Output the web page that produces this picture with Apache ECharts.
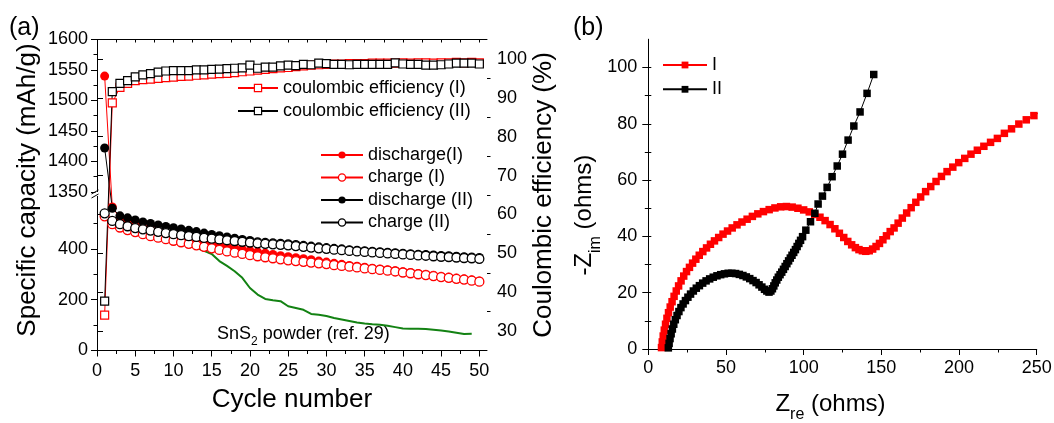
<!DOCTYPE html>
<html>
<head>
<meta charset="utf-8">
<title>SnS2 electrodes: cycling and impedance</title>
<script src="https://cdn.jsdelivr.net/npm/echarts@6/dist/echarts.min.js"></script>
<style>
html, body { margin: 0; padding: 0; background: #fff; }
#chart { width: 1054px; height: 423px; }
</style>
</head>
<body>
<div id="chart"></div>
<script>
// ---------- (a) cycling performance ----------
const cycleNo = [1,2,3,4,5,6,7,8,9,10,11,12,13,14,15,16,17,18,19,20,21,22,23,24,25,
  26,27,28,29,30,31,32,33,34,35,36,37,38,39,40,41,42,43,44,45,46,47,48,49,50];

const dischargeI = [1540,565,520,503,493,484,476,468,461,454,447,440,434,428,422,416,410,404,398,393,
  388,383,378,373,369,365,361,357,352,348,343,339,335,332,328,324,321,318,314,310,
  307,303,300,296,292,289,285,282,278,274];
const chargeI = [528,497,484,474,466,458,450,444,438,432,426,420,414,408,402,396,390,385,380,375,
  371,367,363,359,355,352,349,346,343,340,336,333,330,327,323,320,317,314,311,307,
  304,300,297,293,289,286,282,279,275,271];
const dischargeII = [1422,560,530,522,514,506,500,494,488,483,478,473,468,462,457,452,447,442,437,433,
  428,426,424,422,420,417,414,411,408,405,402,400,397,395,393,391,389,387,385,383,
  381,379,378,376,374,373,371,369,368,366];
const chargeII = [540,510,497,489,482,477,472,467,462,458,454,450,447,443,440,437,434,431,428,425,
  422,420,418,416,414,411,408,405,402,400,397,395,392,390,388,386,384,382,380,378,
  376,374,373,371,369,368,366,364,363,361];

const ceI = [34.1,88.7,92.7,93.7,94.4,94.7,94.8,95.0,95.2,95.3,95.5,95.6,95.8,95.9,96.1,96.2,96.3,96.5,96.7,96.9,
  97.1,97.3,97.5,97.7,97.8,98.0,98.2,98.4,98.5,98.6,98.7,98.7,98.8,98.8,98.8,98.9,98.9,98.9,98.9,99.0,
  98.9,99.0,99.0,98.9,99.0,99.0,99.1,99.0,99.1,99.0];
const ceII = [37.7,91.6,93.7,94.4,95.4,95.9,96.2,96.6,96.9,97.0,97.0,97.0,97.2,97.2,97.3,97.4,97.5,97.6,97.7,98.4,
  97.6,97.9,97.9,98.2,98.4,98.3,98.6,98.5,98.9,98.8,98.6,98.6,98.5,98.6,98.6,98.6,98.6,98.6,99.0,98.7,
  98.6,98.6,98.4,98.4,98.5,98.7,98.9,98.9,98.9,98.7];

// SnS2 powder reference curve (ref. 29)
const powderCycle = [2,3,4,5,6,7,8,9,10,11,12,13,14,15,16,17,18,19,20,21,22,23,24,25,
  26,27,28,29,30,31,32,33,34,35,36,37,38,39,40,41,42,43,44,45,46,47,48,49];
const powderCapacity = [516,508,501,507,470,458,454,448,443,432,424,404,392,380,352,333,312,286,246,220,
  203,198,194,174,167,160,144,141,136,128,122,116,110,106,103,101,97,92,87,86,
  86,85,82,79,75,70,65,66];

// tick labels
const cycleTicks = [0,5,10,15,20,25,30,35,40,45,50];
const cycleMinorTicks = [2.5,7.5,12.5,17.5,22.5,27.5,32.5,37.5,42.5,47.5];
const cycleTopTicks = [0,2.5,5,7.5,10,12.5,15,17.5,20,22.5,25,27.5,30,32.5,35,37.5,40,42.5,45,47.5,50];
const capTicks = [0,200,400,1350,1400,1450,1500,1550,1600];
const capMinorTicks = [100,300,500,1375,1425,1475,1525,1575];
const ceTicks = [30,40,50,60,70,80,90,100];
const ceMinorTicks = [35,45,55,65,75,85,95];

// ---------- (b) Nyquist plots ----------
const zReI = [8.5,9.0,9.6,10.3,11.1,12.0,13.0,14.1,15.3,16.6,18.0,19.5,21.1,22.8,24.6,26.5,28.5,30.6,32.8,35.1,
  37.5,40.0,42.6,45.3,48.1,51.0,54.0,57.1,60.3,63.6,67.0,70.5,74.1,77.8,81.5,85.2,88.9,92.6,96.3,100.0,
  103.6,107.1,110.5,113.8,117.0,120.1,123.0,125.8,128.4,130.9,133.3,135.6,137.8,140.0,142.2,144.4,146.6,148.8,151.0,153.3,
  155.7,158.2,160.8,163.5,166.3,169.2,172.2,175.3,178.5,181.8,185.2,188.7,192.3,196.0,199.8,203.7,207.7,211.8,216.0,220.3,
  224.7,229.2,233.8,238.5,243.3,248.2,253.2];
const zImI = [0.5,2.5,4.6,6.7,8.8,10.9,12.9,14.9,16.8,18.7,20.6,22.4,24.2,25.9,27.5,29.0,30.5,31.9,33.3,34.6,
  35.9,37.2,38.4,39.6,40.8,41.9,43.0,44.1,45.1,46.1,47.1,48.0,48.8,49.5,50.1,50.5,50.6,50.4,50.0,49.4,
  48.7,47.8,46.8,45.6,44.2,42.7,41.1,39.6,38.2,37.0,36.0,35.3,34.9,34.7,34.9,35.5,36.4,37.5,38.8,40.2,
  41.7,43.0,44.7,46.5,48.3,50.2,52.1,54.0,55.9,57.7,59.5,61.3,63.0,64.6,66.2,67.7,69.2,70.6,72.0,73.4,
  74.8,76.6,78.2,79.9,81.4,82.9,84.4];
const zReII = [12.9,13.4,14.0,14.7,15.5,16.4,17.4,18.5,19.7,21.0,22.4,23.9,25.5,27.2,29.0,30.9,32.9,35.0,37.2,39.5,
  41.8,44.2,46.6,49.0,51.4,53.8,56.2,58.6,60.9,63.1,65.3,67.4,69.4,71.3,73.1,74.8,76.3,77.7,
  78.9,79.9,80.8,81.7,82.7,83.7,84.8,85.9,87.0,88.1,89.2,90.3,91.4,92.5,93.6,94.7,95.8,96.9,98.0,99.3,
  101.4,104.4,107.2,109.3,112.1,115.1,118.3,121.6,125.0,128.6,132.3,136.3,140.8,145.1];
const zImII = [0.4,2.0,3.7,5.4,7.1,8.8,10.4,11.9,13.3,14.7,16.0,17.2,18.4,19.5,20.6,21.6,22.5,23.4,24.2,24.9,
  25.5,26.0,26.4,26.7,26.9,26.9,26.8,26.5,26.1,25.6,25.0,24.3,23.6,22.8,22.0,21.2,20.6,20.2,
  20.6,21.4,22.4,23.5,24.5,25.5,26.4,27.3,28.3,29.3,30.3,31.3,32.3,33.3,34.3,35.3,36.4,37.5,38.6,39.9,
  42.2,45.2,48.2,51.5,54.3,57.4,61.2,65.0,69.2,74.2,79.2,84.2,90.8,97.5];
const zReTicks = [0,50,100,150,200,250];
const zImTicks = [0,20,40,60,80,100];
const zImRightTicks = [10,20,30,40,50,60,70,80,90,100];
const zImMinorTicks = [10,30,50,70,90];

// ---------- broken capacity axis ----------
// lower part 0–612 mAh/g and upper part 1345–1600 mAh/g each take half of the axis
const CAP_LOWER = [0, 612];
const CAP_UPPER = [1345, 1600];
function capToAxis(v) {
  if (v <= CAP_LOWER[1]) return (v - CAP_LOWER[0]) / (CAP_LOWER[1] - CAP_LOWER[0]) * 50;
  return 50 + (v - CAP_UPPER[0]) / (CAP_UPPER[1] - CAP_UPPER[0]) * 50;
}
const capLabelText = {};
capTicks.forEach(v => { capLabelText[capToAxis(v).toFixed(3)] = String(v); });

// ---------- styling ----------
const FONT = '"Liberation Sans", Arial, Helvetica, sans-serif';
const INK = '#000';
const RED = '#ff0000';
const GREEN = '#138213';
const tickLabel = { color: INK, fontSize: 18, fontFamily: FONT };
const titleText = { color: INK, fontSize: 26, fontFamily: FONT };
const frameLine = { show: true, lineStyle: { color: INK, width: 1 } };
const noLine = { show: false, lineStyle: { color: INK } };
const noSplit = { show: false };
const GRID_A = { left: 97, top: 39.5, width: 390, height: 311 };
const GRID_B = { left: 648.3, top: 39.3, width: 388.4, height: 309.7 };
const subRich = {
  n: { fontSize: 24, fontFamily: FONT, color: INK, lineHeight: 38 },
  s: { fontSize: 16, fontFamily: FONT, color: INK, lineHeight: 16, padding: [22, 0, 0, 0] }
};

function pairs(xs, ys) { return xs.map((x, i) => [x, ys[i]]); }
function capPairs(ys) { return cycleNo.map((c, i) => [c, capToAxis(ys[i])]); }

function capSeries(name, values, color, filled) {
  return {
    name, type: 'line', xAxisIndex: 0, yAxisIndex: 0,
    data: capPairs(values),
    symbol: 'circle', symbolSize: 9,
    lineStyle: { color, width: 1 },
    itemStyle: filled ? { color, borderWidth: 0 } : { color: '#fff', borderColor: color, borderWidth: 1.3 },
    emphasis: { disabled: true }
  };
}
function ceSeries(name, values, color) {
  return {
    name, type: 'line', xAxisIndex: 0, yAxisIndex: 1,
    data: pairs(cycleNo, values),
    symbol: 'rect', symbolSize: 8,
    lineStyle: { color, width: 1 },
    itemStyle: { color: '#fff', borderColor: color, borderWidth: 1.2 },
    emphasis: { disabled: true }
  };
}
function nyquistSeries(name, xs, ys, color) {
  return {
    name, type: 'line', xAxisIndex: 3, yAxisIndex: 4,
    data: pairs(xs, ys),
    symbol: 'rect', symbolSize: 7.5,
    lineStyle: { color, width: 1 },
    itemStyle: { color, borderWidth: 0 },
    emphasis: { disabled: true }
  };
}

const legendBase = {
  orient: 'vertical', selectedMode: false, padding: 0,
  itemHeight: 9,
  itemStyle: { borderWidth: 'inherit' },
  textStyle: { color: INK, fontSize: 18, fontFamily: FONT, lineHeight: 20 }
};

const chart = echarts.init(document.getElementById('chart'), null, { renderer: 'canvas' });

chart.setOption({
  animation: false,
  backgroundColor: '#fff',
  grid: [
    Object.assign({ outerBoundsMode: 'none', containLabel: false }, GRID_A),
    Object.assign({ outerBoundsMode: 'none', containLabel: false }, GRID_A),
    Object.assign({ outerBoundsMode: 'none', containLabel: false }, GRID_B),
    Object.assign({ outerBoundsMode: 'none', containLabel: false }, GRID_B)
  ],
  xAxis: [
    { // (a) cycle number
      gridIndex: 0, type: 'value', position: 'bottom', min: 0, max: 51,
      axisLine: frameLine, splitLine: noSplit,
      axisTick: { show: true, length: 6, customValues: cycleTicks, lineStyle: { color: INK } },
      axisLabel: Object.assign({ customValues: cycleTicks, margin: 12 }, tickLabel),
      name: 'Cycle number', nameLocation: 'middle', nameGap: 36, nameTextStyle: titleText
    },
    { // (a) top frame
      gridIndex: 0, type: 'value', position: 'top', min: 0, max: 51,
      axisLine: frameLine, splitLine: noSplit, axisLabel: { show: false },
      axisTick: { show: true, inside: true, length: 3, customValues: cycleTopTicks, lineStyle: { color: INK } }
    },
    { // (a) minor ticks of the cycle axis
      gridIndex: 1, type: 'value', position: 'bottom', min: 0, max: 51,
      axisLine: noLine, splitLine: noSplit, axisLabel: { show: false },
      axisTick: { show: true, length: 3.5, customValues: cycleMinorTicks, lineStyle: { color: INK } }
    },
    { // (b) Z_re
      gridIndex: 2, type: 'value', position: 'bottom', min: 0, max: 250, interval: 50,
      axisLine: frameLine, splitLine: noSplit, minorSplitLine: noSplit,
      axisTick: { show: true, length: 6, customValues: zReTicks, lineStyle: { color: INK } },
      minorTick: { show: true, splitNumber: 2, length: 3.5, lineStyle: { color: INK } },
      axisLabel: Object.assign({ customValues: zReTicks, margin: 10 }, tickLabel),
      name: '{n|Z}{s|re}{n| (ohms)}', nameLocation: 'middle', nameGap: 36,
      nameTextStyle: { rich: subRich, padding: [0, 24, 0, 0] }
    },
    { // (b) top frame
      gridIndex: 2, type: 'value', position: 'top', min: 0, max: 250,
      axisLine: frameLine, splitLine: noSplit, axisLabel: { show: false }, axisTick: { show: false }
    },
    { gridIndex: 3, type: 'value', min: 0, max: 250, show: false }
  ],
  yAxis: [
    { // (a) specific capacity, broken axis
      gridIndex: 0, type: 'value', position: 'left', min: 0, max: 100,
      axisLine: frameLine, splitLine: noSplit,
      axisTick: { show: true, length: 6, customValues: capTicks.map(capToAxis), lineStyle: { color: INK } },
      axisLabel: Object.assign({
        customValues: capTicks.map(capToAxis), margin: 9,
        formatter: v => capLabelText[Number(v).toFixed(3)] || ''
      }, tickLabel),
      name: 'Specific capacity (mAh/g)', nameLocation: 'middle', nameRotate: 90, nameGap: 56,
      nameTextStyle: Object.assign({ padding: [0, 0, 0, 10] }, titleText)
    },
    { // (a) coulombic efficiency
      gridIndex: 0, type: 'value', position: 'right', min: 25, max: 105,
      axisLine: frameLine, splitLine: noSplit,
      axisTick: { show: true, length: 6, customValues: ceTicks, lineStyle: { color: INK } },
      axisLabel: Object.assign({ customValues: ceTicks, margin: 10 }, tickLabel),
      name: 'Coulombic efficiency (%)', nameLocation: 'middle', nameRotate: 90, nameGap: 42,
      nameTextStyle: titleText
    },
    { // (a) capacity minor ticks
      gridIndex: 1, type: 'value', position: 'left', min: 0, max: 100,
      axisLine: noLine, splitLine: noSplit, axisLabel: { show: false },
      axisTick: { show: true, length: 3.5, customValues: capMinorTicks.map(capToAxis), lineStyle: { color: INK } }
    },
    { // (a) efficiency minor ticks
      gridIndex: 1, type: 'value', position: 'right', min: 25, max: 105,
      axisLine: noLine, splitLine: noSplit, axisLabel: { show: false },
      axisTick: { show: true, length: 3.5, customValues: ceMinorTicks, lineStyle: { color: INK } }
    },
    { // (b) -Z_im
      gridIndex: 2, type: 'value', position: 'left', min: 0, max: 110,
      axisLine: frameLine, splitLine: noSplit,
      axisTick: { show: true, length: 6, customValues: zImTicks, lineStyle: { color: INK } },
      axisLabel: Object.assign({ customValues: zImTicks, margin: 11 }, tickLabel),
      name: '{n|-Z}{s|im}{n| (ohms)}', nameLocation: 'middle', nameRotate: 90, nameGap: 43,
      nameTextStyle: { rich: subRich, padding: [0, 42, 0, 0] }
    },
    { // (b) right frame
      gridIndex: 2, type: 'value', position: 'right', min: 0, max: 110,
      axisLine: frameLine, splitLine: noSplit, axisLabel: { show: false },
      axisTick: { show: true, length: 3, customValues: zImRightTicks, lineStyle: { color: INK } }
    },
    { // (b) minor ticks of -Z_im
      gridIndex: 3, type: 'value', position: 'left', min: 0, max: 110,
      axisLine: noLine, splitLine: noSplit, axisLabel: { show: false },
      axisTick: { show: true, length: 3.5, customValues: zImMinorTicks, lineStyle: { color: INK } }
    }
  ],
  legend: [
    Object.assign({}, legendBase, {
      left: 237, top: 78, itemWidth: 40, itemGap: 3,
      data: ['coulombic efficiency (I)', 'coulombic efficiency (II)']
    }),
    Object.assign({}, legendBase, {
      left: 320, top: 145, itemWidth: 42, itemGap: 2.5,
      data: ['discharge(I)', 'charge (I)', 'discharge (II)', 'charge (II)']
    }),
    Object.assign({}, legendBase, {
      left: 662, top: 55, itemWidth: 44, itemGap: 4.3, itemHeight: 8.5,
      data: ['I', 'II']
    })
  ],
  series: [
    capSeries('discharge(I)', dischargeI, RED, true),
    capSeries('charge (I)', chargeI, RED, false),
    capSeries('discharge (II)', dischargeII, INK, true),
    capSeries('charge (II)', chargeII, INK, false),
    ceSeries('coulombic efficiency (I)', ceI, RED),
    ceSeries('coulombic efficiency (II)', ceII, INK),
    {
      name: 'SnS2 powder (ref. 29)', type: 'line', xAxisIndex: 0, yAxisIndex: 0, z: 3,
      data: powderCycle.map((c, i) => [c, capToAxis(powderCapacity[i])]),
      symbol: 'none', lineStyle: { color: GREEN, width: 2 }, emphasis: { disabled: true }
    },
    nyquistSeries('I', zReI, zImI, RED),
    nyquistSeries('II', zReII, zImII, INK)
  ]
});

// panel letters, reference label and the "//" break mark on the capacity axis
const breakY = chart.convertToPixel({ yAxisIndex: 0 }, 50);
const axisX = chart.convertToPixel({ xAxisIndex: 0 }, 0);
chart.setOption({
  graphic: [
    { type: 'text', left: 9, top: 16, style: { text: '(a)', fontSize: 25, fontFamily: FONT, fill: INK } },
    { type: 'text', left: 573, top: 16, style: { text: '(b)', fontSize: 25, fontFamily: FONT, fill: INK } },
    {
      type: 'text', left: 217, top: 320,
      style: {
        text: '{n|SnS}{s|2}{n| powder (ref. 29)}',
        rich: {
          n: { fontSize: 18, fontFamily: FONT, fill: INK, lineHeight: 28 },
          s: { fontSize: 12, fontFamily: FONT, fill: INK, lineHeight: 12, padding: [16, 0, 0, 0] }
        }
      }
    },
    { type: 'rect', z: 100, shape: { x: axisX - 1.5, y: breakY - 3, width: 3, height: 4 }, style: { fill: '#fff' } },
    { type: 'line', z: 101, shape: { x1: axisX - 5.5, y1: breakY - 1, x2: axisX + 1.5, y2: breakY - 5 }, style: { stroke: INK, lineWidth: 1 } },
    { type: 'line', z: 101, shape: { x1: axisX - 5.5, y1: breakY + 3, x2: axisX + 1.5, y2: breakY - 1 }, style: { stroke: INK, lineWidth: 1 } }
  ]
});
</script>
</body>
</html>
